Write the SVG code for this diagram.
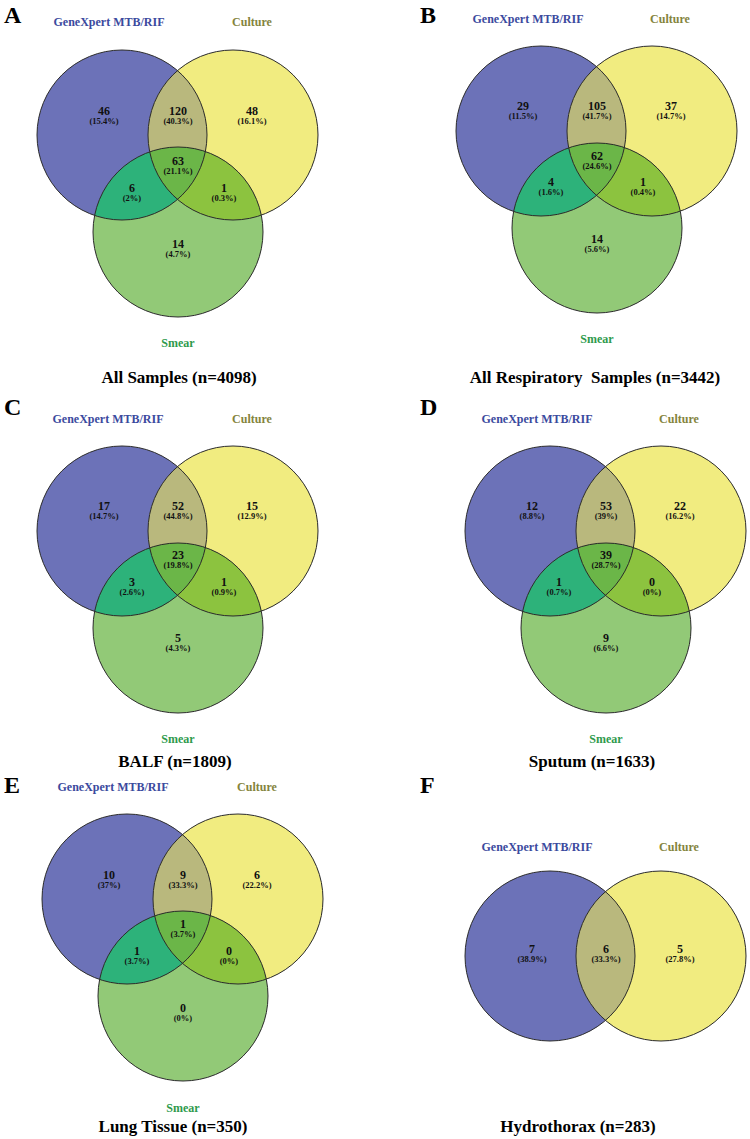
<svg xmlns="http://www.w3.org/2000/svg" xmlns:xlink="http://www.w3.org/1999/xlink" width="750" height="1139" viewBox="0 0 750 1139">
<style>
text{font-family:"Liberation Serif","Times New Roman",serif;font-weight:bold;text-anchor:middle}
.let{font-size:24px;text-anchor:start;fill:#000}
.gx{font-size:12px;fill:#3b4a9e}
.cu{font-size:12px;fill:#84843c}
.sm{font-size:12px;fill:#2e9a4c}
.ti{font-size:17px;fill:#000;white-space:pre}
.n{font-size:12px;fill:#111}
.p{font-size:8.5px;fill:#111}
.ol{fill:none;stroke:#2a2a2a;stroke-width:1}
</style>
<defs>
<clipPath id="cB"><circle cx="0" cy="0" r="85"/></clipPath>
<clipPath id="cY"><circle cx="111" cy="0" r="85"/></clipPath>
<g id="venn3">
<circle cx="0" cy="0" r="85" fill="#6c72b8"/>
<circle cx="111" cy="0" r="85" fill="#f1ec80"/>
<circle cx="56" cy="97" r="85" fill="#92c977"/>
<circle cx="111" cy="0" r="85" fill="#b9b87d" clip-path="url(#cB)"/>
<circle cx="56" cy="97" r="85" fill="#2db27a" clip-path="url(#cB)"/>
<circle cx="56" cy="97" r="85" fill="#8cc33f" clip-path="url(#cY)"/>
<g clip-path="url(#cB)"><circle cx="56" cy="97" r="85" fill="#6bb648" clip-path="url(#cY)"/></g>
<circle class="ol" cx="0" cy="0" r="85"/>
<circle class="ol" cx="111" cy="0" r="85"/>
<circle class="ol" cx="56" cy="97" r="85"/>
</g>
<g id="venn2">
<circle cx="0" cy="0" r="85" fill="#6c72b8"/>
<circle cx="111" cy="0" r="85" fill="#f1ec80"/>
<circle cx="111" cy="0" r="85" fill="#b9b87d" clip-path="url(#cB)"/>
<circle class="ol" cx="0" cy="0" r="85"/>
<circle class="ol" cx="111" cy="0" r="85"/>
</g>
</defs>
<rect width="750" height="1139" fill="#fff"/>

<g id="panelA">
<use xlink:href="#venn3" href="#venn3" transform="translate(122,135)"/>
<text class="let" x="4" y="23">A</text>
<text class="gx" x="109" y="26">GeneXpert MTB/RIF</text>
<text class="cu" x="252" y="26">Culture</text>
<text class="sm" x="178" y="347">Smear</text>
<text class="ti" x="179" y="383">All Samples (n=4098)</text>
<text class="n" x="104" y="115">46</text><text class="p" x="104" y="124">(15.4%)</text>
<text class="n" x="178" y="115">120</text><text class="p" x="178" y="124">(40.3%)</text>
<text class="n" x="252" y="115">48</text><text class="p" x="252" y="124">(16.1%)</text>
<text class="n" x="178" y="165">63</text><text class="p" x="178" y="174">(21.1%)</text>
<text class="n" x="132" y="192">6</text><text class="p" x="132" y="201">(2%)</text>
<text class="n" x="224" y="192">1</text><text class="p" x="224" y="201">(0.3%)</text>
<text class="n" x="178" y="248">14</text><text class="p" x="178" y="257">(4.7%)</text>
</g>

<g id="panelB">
<use xlink:href="#venn3" href="#venn3" transform="translate(541,131)"/>
<text class="let" x="420" y="23">B</text>
<text class="gx" x="528" y="23">GeneXpert MTB/RIF</text>
<text class="cu" x="670" y="23">Culture</text>
<text class="sm" x="597" y="343">Smear</text>
<text class="ti" x="595" y="383">All Respiratory  Samples (n=3442)</text>
<text class="n" x="523" y="110">29</text><text class="p" x="523" y="119">(11.5%)</text>
<text class="n" x="597" y="110">105</text><text class="p" x="597" y="119">(41.7%)</text>
<text class="n" x="671" y="110">37</text><text class="p" x="671" y="119">(14.7%)</text>
<text class="n" x="597" y="160">62</text><text class="p" x="597" y="169">(24.6%)</text>
<text class="n" x="551" y="186">4</text><text class="p" x="551" y="195">(1.6%)</text>
<text class="n" x="643" y="186">1</text><text class="p" x="643" y="195">(0.4%)</text>
<text class="n" x="597" y="243">14</text><text class="p" x="597" y="252">(5.6%)</text>
</g>

<g id="panelC">
<use xlink:href="#venn3" href="#venn3" transform="translate(122,531)"/>
<text class="let" x="4" y="415">C</text>
<text class="gx" x="108" y="423">GeneXpert MTB/RIF</text>
<text class="cu" x="252" y="423">Culture</text>
<text class="sm" x="178" y="743">Smear</text>
<text class="ti" x="175" y="767">BALF (n=1809)</text>
<text class="n" x="104" y="510">17</text><text class="p" x="104" y="519">(14.7%)</text>
<text class="n" x="178" y="510">52</text><text class="p" x="178" y="519">(44.8%)</text>
<text class="n" x="252" y="510">15</text><text class="p" x="252" y="519">(12.9%)</text>
<text class="n" x="178" y="559">23</text><text class="p" x="178" y="568">(19.8%)</text>
<text class="n" x="132" y="586">3</text><text class="p" x="132" y="595">(2.6%)</text>
<text class="n" x="224" y="586">1</text><text class="p" x="224" y="595">(0.9%)</text>
<text class="n" x="178" y="642">5</text><text class="p" x="178" y="651">(4.3%)</text>
</g>

<g id="panelD">
<use xlink:href="#venn3" href="#venn3" transform="translate(550,531)"/>
<text class="let" x="420" y="415">D</text>
<text class="gx" x="537" y="423">GeneXpert MTB/RIF</text>
<text class="cu" x="679" y="423">Culture</text>
<text class="sm" x="606" y="743">Smear</text>
<text class="ti" x="592" y="767">Sputum (n=1633)</text>
<text class="n" x="532" y="510">12</text><text class="p" x="532" y="519">(8.8%)</text>
<text class="n" x="606" y="510">53</text><text class="p" x="606" y="519">(39%)</text>
<text class="n" x="680" y="510">22</text><text class="p" x="680" y="519">(16.2%)</text>
<text class="n" x="606" y="559">39</text><text class="p" x="606" y="568">(28.7%)</text>
<text class="n" x="559" y="586">1</text><text class="p" x="559" y="595">(0.7%)</text>
<text class="n" x="652" y="586">0</text><text class="p" x="652" y="595">(0%)</text>
<text class="n" x="606" y="642">9</text><text class="p" x="606" y="651">(6.6%)</text>
</g>

<g id="panelE">
<use xlink:href="#venn3" href="#venn3" transform="translate(127,899)"/>
<text class="let" x="4" y="793">E</text>
<text class="gx" x="113" y="791">GeneXpert MTB/RIF</text>
<text class="cu" x="257" y="791">Culture</text>
<text class="sm" x="183" y="1112">Smear</text>
<text class="ti" x="173" y="1132">Lung Tissue (n=350)</text>
<text class="n" x="109" y="879">10</text><text class="p" x="109" y="888">(37%)</text>
<text class="n" x="183" y="879">9</text><text class="p" x="183" y="888">(33.3%)</text>
<text class="n" x="257" y="879">6</text><text class="p" x="257" y="888">(22.2%)</text>
<text class="n" x="183" y="928">1</text><text class="p" x="183" y="937">(3.7%)</text>
<text class="n" x="137" y="955">1</text><text class="p" x="137" y="964">(3.7%)</text>
<text class="n" x="229" y="955">0</text><text class="p" x="229" y="964">(0%)</text>
<text class="n" x="183" y="1012">0</text><text class="p" x="183" y="1021">(0%)</text>
</g>

<g id="panelF">
<use xlink:href="#venn2" href="#venn2" transform="translate(550,956)"/>
<text class="let" x="420" y="793">F</text>
<text class="gx" x="537" y="851">GeneXpert MTB/RIF</text>
<text class="cu" x="679" y="851">Culture</text>
<text class="ti" x="578" y="1132">Hydrothorax (n=283)</text>
<text class="n" x="532" y="953">7</text><text class="p" x="532" y="962">(38.9%)</text>
<text class="n" x="606" y="953">6</text><text class="p" x="606" y="962">(33.3%)</text>
<text class="n" x="680" y="953">5</text><text class="p" x="680" y="962">(27.8%)</text>
</g>
</svg>
